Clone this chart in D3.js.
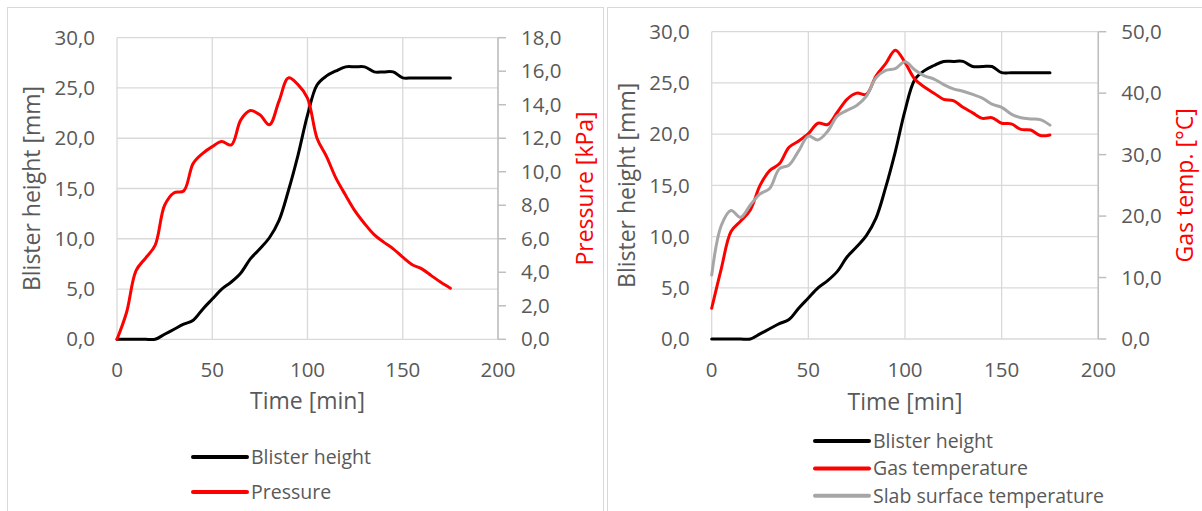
<!DOCTYPE html>
<html>
<head>
<meta charset="utf-8">
<script src="https://cdn.jsdelivr.net/npm/d3@7"></script>
<style>
  body { margin: 0; background: #fff; }
  svg { display: block; font-family: "Open Sans", sans-serif; }
</style>
</head>
<body>
<svg id="chart" width="1202" height="511"></svg>
<script>
// time axis shared by every series (minutes)
const timeMin = [0, 5, 10, 15, 20, 25, 30, 35, 40, 45, 50, 55, 60, 65, 70, 75, 80, 85,
  90, 95, 100, 105, 110, 115, 120, 125, 130, 135, 140, 145, 150, 155, 160, 165, 170, 175];

// blister height [mm]
const blisterHeight = [0, 0, 0, 0, 0, 0.5, 1.0, 1.5, 1.9, 3.0, 4.0, 5.0, 5.7, 6.6, 8.0, 9.0, 10.1, 11.8,
  14.8, 18.3, 22.3, 25.3, 26.2, 26.7, 27.1, 27.1, 27.1, 26.6, 26.6, 26.6, 26.0, 26.0, 26.0, 26.0, 26.0, 26.0];

// pressure [kPa]
const pressure = [0, 1.6, 4.1, 4.85, 5.6, 8.0, 8.75, 8.85, 10.5, 11.1, 11.5, 11.8, 11.6, 13.1, 13.65, 13.4, 12.8, 14.2,
  15.6, 15.2, 14.4, 12.0, 10.9, 9.6, 8.6, 7.65, 6.9, 6.25, 5.8, 5.4, 4.9, 4.45, 4.2, 3.8, 3.4, 3.05];

// gas temperature [°C]
const gasTemp = [5.0, 11.5, 17.5, 19.2, 21.0, 25.0, 27.4, 28.5, 31.2, 32.2, 33.4, 35.1, 34.9, 36.9, 39.0, 40.0, 39.8, 42.8,
  44.8, 47.0, 45.0, 42.3, 41.0, 40.0, 39.0, 38.8, 37.7, 36.8, 35.9, 36.0, 35.1, 35.0, 34.1, 34.0, 33.1, 33.2];

// slab surface temperature [°C]
const slabTemp = [10.4, 18.5, 20.9, 19.8, 21.8, 23.6, 24.5, 27.7, 28.3, 30.6, 33.0, 32.4, 33.8, 36.3, 37.2, 38.0, 39.5, 42.5,
  43.7, 44.0, 45.1, 43.8, 42.8, 42.3, 41.4, 40.7, 40.3, 39.8, 39.2, 38.2, 37.7, 36.6, 36.0, 35.8, 35.7, 34.8];

const xTicks = [0, 50, 100, 150, 200];
const leftTicks = [0, 5, 10, 15, 20, 25, 30];
const pressureTicks = [0, 2, 4, 6, 8, 10, 12, 14, 16, 18];
const tempTicks = [0, 10, 20, 30, 40, 50];

const fmt = v => d3.format('.1f')(v).replace('.', ',');
const textColor = '#595959';
const gridColor = '#d9d9d9';
const tickSize = 20.5, titleSize = 23, legendSize = 19.5;

const svg = d3.select('#chart');

// chart frames
svg.append('rect').attr('x', 7.5).attr('y', 7.5).attr('width', 596).attr('height', 510)
  .attr('fill', 'none').attr('stroke', '#d9d9d9').attr('stroke-width', 1);
svg.append('rect').attr('x', 607.5).attr('y', 7.5).attr('width', 600).attr('height', 510)
  .attr('fill', 'none').attr('stroke', '#d9d9d9').attr('stroke-width', 1);

function drawChart(c) {
  const g = svg.append('g');
  const x = d3.scaleLinear().domain([0, 200]).range(c.xRange);
  const y = d3.scaleLinear().domain([0, 30]).range(c.yRange);
  const y2 = d3.scaleLinear().domain(c.y2Domain).range(c.yRange);

  // gridlines
  g.selectAll('.hgrid').data(leftTicks).enter().append('line')
    .attr('x1', x(0)).attr('x2', x(200))
    .attr('y1', d => y(d)).attr('y2', d => y(d))
    .attr('stroke', gridColor).attr('stroke-width', 1.3);
  g.selectAll('.vgrid').data(xTicks).enter().append('line')
    .attr('x1', d => x(d)).attr('x2', d => x(d))
    .attr('y1', y(0)).attr('y2', y(30))
    .attr('stroke', gridColor).attr('stroke-width', 1.3);

  // secondary axis line + outside ticks
  g.append('line').attr('x1', x(200)).attr('x2', x(200))
    .attr('y1', c.yRange[0]).attr('y2', c.yRange[1])
    .attr('stroke', '#bfbfbf').attr('stroke-width', 1.5);
  g.selectAll('.rtick').data(c.y2Ticks).enter().append('line')
    .attr('x1', x(200)).attr('x2', x(200) + 8)
    .attr('y1', d => y2(d)).attr('y2', d => y2(d))
    .attr('stroke', '#bfbfbf').attr('stroke-width', 1.5);

  // tick labels
  g.selectAll('.ltl').data(leftTicks).enter().append('text')
    .attr('x', x(0) - 22).attr('y', d => y(d)).attr('dy', '0.35em')
    .attr('text-anchor', 'end').attr('fill', textColor).attr('font-size', tickSize)
    .text(fmt);
  g.selectAll('.rtl').data(c.y2Ticks).enter().append('text')
    .attr('x', x(200) + 23).attr('y', d => y2(d)).attr('dy', '0.35em')
    .attr('text-anchor', 'start').attr('fill', textColor).attr('font-size', tickSize)
    .text(fmt);
  g.selectAll('.xtl').data(xTicks).enter().append('text')
    .attr('x', d => x(d)).attr('y', 370).attr('dy', '0.35em')
    .attr('text-anchor', 'middle').attr('fill', textColor).attr('font-size', tickSize)
    .text(d => d);

  // axis titles
  const midY = (c.yRange[0] + c.yRange[1]) / 2;
  g.append('text').attr('transform', `translate(${c.leftTitleX},${midY}) rotate(-90)`)
    .attr('dy', '0.35em').attr('text-anchor', 'middle')
    .attr('fill', textColor).attr('font-size', titleSize).text('Blister height [mm]');
  g.append('text').attr('transform', `translate(${c.rightTitleX},${midY}) rotate(-90)`)
    .attr('dy', '0.35em').attr('text-anchor', 'middle')
    .attr('fill', '#ff0000').attr('font-size', titleSize).text(c.rightTitle);
  g.append('text').attr('x', (c.xRange[0] + c.xRange[1]) / 2).attr('y', c.xTitleY).attr('dy', '0.35em')
    .attr('text-anchor', 'middle').attr('fill', textColor).attr('font-size', titleSize).text('Time [min]');

  // series
  c.series.forEach(s => {
    const sy = s.axis === 'left' ? y : y2;
    const line = d3.line()
      .x((d, i) => x(timeMin[i]))
      .y(d => sy(d))
      .curve(d3.curveCatmullRom);
    g.append('path').datum(s.values)
      .attr('d', line)
      .attr('fill', 'none').attr('stroke', s.color)
      .attr('stroke-width', 3).attr('stroke-linejoin', 'round').attr('stroke-linecap', 'round');
  });

  // legend
  const legend = g.append('g');
  c.series.forEach((s, i) => {
    const ly = c.legendY + i * c.legendStep;
    legend.append('line')
      .attr('x1', c.legendX).attr('x2', c.legendX + 54)
      .attr('y1', ly).attr('y2', ly)
      .attr('stroke', s.color).attr('stroke-width', 4).attr('stroke-linecap', 'round');
    legend.append('text')
      .attr('x', c.legendX + 58).attr('y', ly).attr('dy', '0.35em')
      .attr('fill', textColor).attr('font-size', legendSize).text(s.name);
  });
}

drawChart({
  xRange: [117, 498],
  yRange: [339.3, 37.7],
  y2Domain: [0, 18],
  y2Ticks: pressureTicks,
  leftTitleX: 32,
  rightTitleX: 585,
  rightTitle: 'Pressure [kPa]',
  xTitleY: 401,
  legendX: 193,
  legendY: 457,
  legendStep: 35,
  series: [
    { name: 'Blister height', values: blisterHeight, color: '#000000', axis: 'left' },
    { name: 'Pressure', values: pressure, color: '#ff0000', axis: 'right' }
  ]
});

drawChart({
  xRange: [711.7, 1098.3],
  yRange: [339, 31.7],
  y2Domain: [0, 50],
  y2Ticks: tempTicks,
  leftTitleX: 627,
  rightTitleX: 1185,
  rightTitle: 'Gas temp. [°C]',
  xTitleY: 402,
  legendX: 815,
  legendY: 441,
  legendStep: 27.4,
  series: [
    { name: 'Blister height', values: blisterHeight, color: '#000000', axis: 'left' },
    { name: 'Gas temperature', values: gasTemp, color: '#ff0000', axis: 'right' },
    { name: 'Slab surface temperature', values: slabTemp, color: '#a6a6a6', axis: 'right' }
  ]
});
</script>
</body>
</html>
